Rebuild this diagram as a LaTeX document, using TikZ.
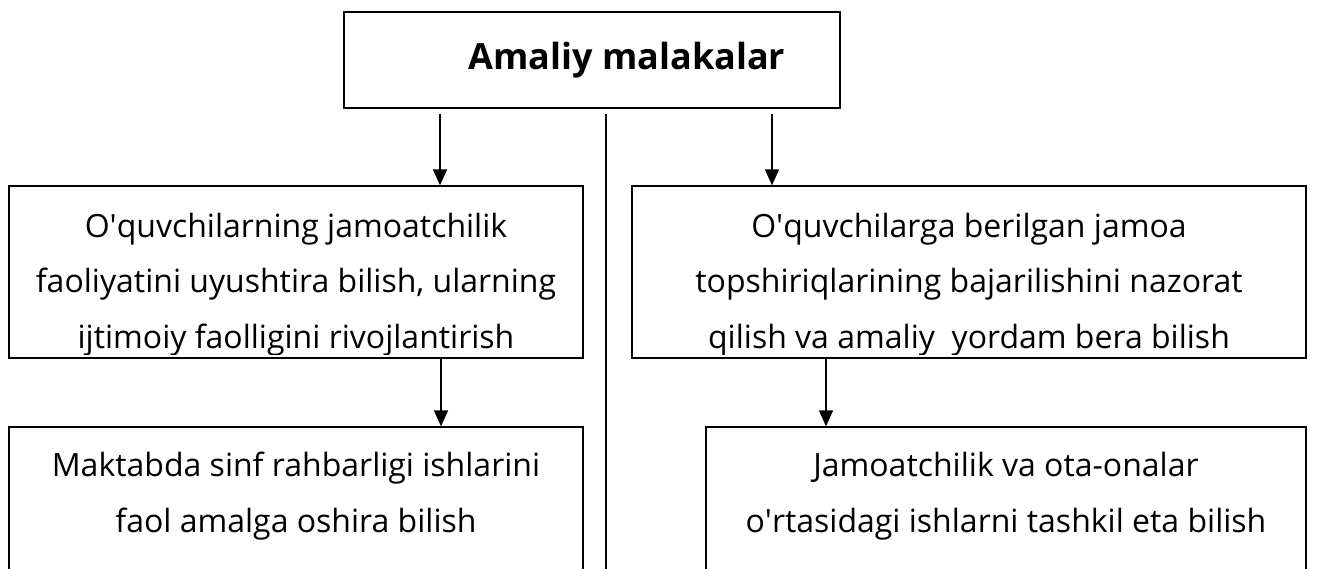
\documentclass[tikz,border=0pt]{standalone}
\usepackage{fontspec}
\setmainfont{Open Sans}
\usetikzlibrary{arrows.meta}

\begin{document}
\begin{tikzpicture}[x=1pt,y=1pt,
    box/.style={draw,line width=1.3pt,rectangle,inner sep=0pt},
    txt/.style={align=center,anchor=base,inner sep=0pt,font=\fontsize{32}{55.5}\selectfont},
    arr/.style={line width=1.6pt,-{Triangle[length=16pt,width=14pt]}}]
        \useasboundingbox (0,0) rectangle (1338,-569);
        % boxes
        \node[box,minimum width=496,minimum height=96] (top) at (592,-60) {};
        \node[box,minimum width=574,minimum height=172] (lone) at (296,-272) {};
        \node[box,minimum width=674,minimum height=172] (rone) at (969,-272) {};
        \node[box,minimum width=574,minimum height=240] (ltwo) at (296,-547) {};
        \node[box,minimum width=600,minimum height=240] (rtwo) at (1006,-547) {};
        % texts
        \node[txt,font=\fontsize{36}{44}\selectfont\bfseries] (toptext) at (627,-70) {Amaliy malakalar};
        \begin{scope}
          \clip ([yshift=4pt]lone.south west) rectangle (lone.north east);
          \node[txt] (lonetext) at (296,-348) {O\textquotesingle quvchilarning jamoatchilik\\faoliyatini uyushtira bilish, ularning\\ijtimoiy faolligini rivojlantirish};
        \end{scope}
        \begin{scope}
          \clip ([yshift=4pt]rone.south west) rectangle (rone.north east);
          \node[txt] (ronetext) at (969,-348) {O\textquotesingle quvchilarga berilgan jamoa\\topshiriqlarining bajarilishini nazorat\\qilish va amaliy\ \ yordam bera bilish};
        \end{scope}
        \node[txt] (ltwotext) at (296,-532) {Maktabda sinf rahbarligi ishlarini\\faol amalga oshira bilish};
        \node[txt] (rtwotext) at (1006,-532) {Jamoatchilik va ota-onalar\\o\textquotesingle rtasidagi ishlarni tashkil eta bilish};
        % connectors
        \draw[arr] ([xshift=-152pt,yshift=-5pt]top.south) -- ([xshift=-152pt]top.south |- lone.north);
        \draw[arr] ([xshift=180pt,yshift=-5pt]top.south) -- ([xshift=180pt]top.south |- rone.north);
        \draw[line width=1.6pt] ([xshift=14pt,yshift=-5pt]top.south) -- ([xshift=14pt]top.south |- ltwo.south);
        \draw[arr] ([xshift=145pt]lone.south) -- ([xshift=145pt]lone.south |- ltwo.north);
        \draw[arr] ([xshift=-143pt]rone.south) -- ([xshift=-143pt]rone.south |- rtwo.north);
      \end{tikzpicture}
\end{document}
